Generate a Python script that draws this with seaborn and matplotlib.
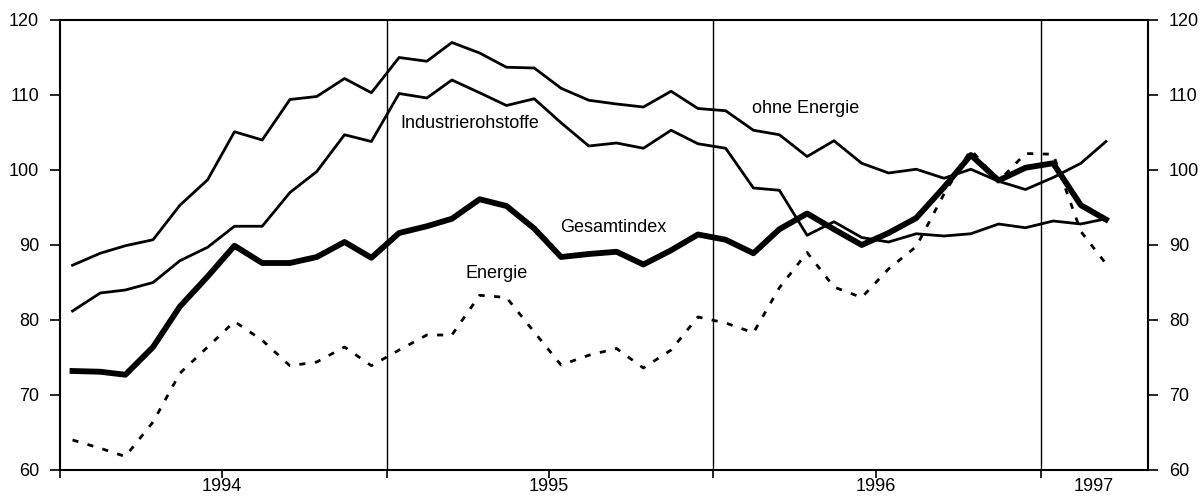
import matplotlib
matplotlib.use("Agg")
import matplotlib.pyplot as plt
import seaborn as sns
import pandas as pd

# ---- data (monthly, Jan 1994 - Mar 1997) ----
months = pd.date_range("1994-01-01", "1997-03-01", freq="MS")

ohne_energie = [87.3, 88.9, 89.9, 90.7, 95.3, 98.7, 105.1, 104.0, 109.4, 109.8, 112.2, 110.3,
                115.0, 114.5, 117.0, 115.6, 113.7, 113.6, 110.9, 109.3, 108.8, 108.4, 110.5, 108.2,
                107.9, 105.3, 104.7, 101.8, 103.9, 100.9, 99.6, 100.1, 98.9, 100.1, 98.5, 97.4,
                99.0, 100.9, 103.8]
industrierohstoffe = [81.2, 83.6, 84.0, 85.0, 87.9, 89.7, 92.5, 92.5, 97.0, 99.8, 104.7, 103.8,
                      110.2, 109.6, 112.0, 110.3, 108.6, 109.5, 106.3, 103.2, 103.6, 102.9, 105.3, 103.5,
                      102.9, 97.6, 97.3, 91.3, 93.1, 91.0, 90.4, 91.5, 91.2, 91.5, 92.8, 92.3,
                      93.2, 92.8, 93.5]
gesamtindex = [73.2, 73.1, 72.7, 76.4, 81.8, 85.8, 89.9, 87.6, 87.6, 88.4, 90.4, 88.3,
               91.6, 92.5, 93.5, 96.1, 95.2, 92.2, 88.4, 88.8, 89.1, 87.4, 89.3, 91.4,
               90.7, 88.9, 92.1, 94.2, 92.1, 90.0, 91.6, 93.6, 97.7, 102.0, 98.6, 100.3,
               100.9, 95.3, 93.4]
energie = [64.0, 62.9, 61.8, 66.4, 72.9, 76.4, 79.8, 77.3, 73.9, 74.4, 76.4, 73.9,
           76.0, 78.0, 78.0, 83.3, 83.0, 78.4, 74.0, 75.3, 76.2, 73.6, 76.0, 80.4,
           79.6, 78.3, 84.3, 89.0, 84.4, 83.0, 86.8, 89.8, 96.8, 102.7, 98.5, 102.2,
           102.1, 91.8, 87.5]

year_labels = ["1994", "1995", "1996", "1997"]
y_ticks = [60, 70, 80, 90, 100, 110, 120]

# ---- figure ----
plt.rcParams["font.family"] = ["Liberation Sans", "DejaVu Sans"]
plt.rcParams["font.size"] = 13

fig = plt.figure(figsize=(12.03, 4.97), dpi=100)
ax = fig.add_axes([60 / 1203, 27 / 497, 1088 / 1203, 450 / 497])

# plot at mid-month
mid = months + pd.Timedelta(days=14)
df = pd.DataFrame({"date": mid, "ohne": ohne_energie, "ind": industrierohstoffe,
                   "ges": gesamtindex, "ene": energie})

sns.lineplot(data=df, x="date", y="ohne", ax=ax, color="black", lw=2.0)
sns.lineplot(data=df, x="date", y="ind", ax=ax, color="black", lw=2.0)
sns.lineplot(data=df, x="date", y="ene", ax=ax, color="black", lw=2.0)
ax.lines[-1].set_dashes((2.2, 3.4))
sns.lineplot(data=df, x="date", y="ges", ax=ax, color="black", lw=4.2)

# year separators
for yr in ["1995-01-01", "1996-01-01", "1997-01-01"]:
    ax.axvline(pd.Timestamp(yr), color="black", lw=1.0, zorder=0)

ax.set_xlim(pd.Timestamp("1994-01-01"), pd.Timestamp("1997-05-01"))
ax.set_ylim(60, 120)
ax.set_yticks(y_ticks)
ax.set_xlabel("")
ax.set_ylabel("")

major = [pd.Timestamp(d) for d in ["1994-01-01", "1994-07-01", "1995-01-01", "1995-07-01",
                                    "1996-01-01", "1996-07-01", "1997-01-01"]]
ax.set_xticks(major)
ax.set_xticklabels([""] * len(major))
ax.xaxis.remove_overlapping_locs = False
label_pos = [pd.Timestamp(d) for d in ["1994-07-01", "1995-07-01", "1996-07-01", "1997-03-01"]]
ax.set_xticks(label_pos, minor=True)
ax.set_xticklabels(year_labels, minor=True)
ax.tick_params(axis="x", which="major", direction="out", length=6, width=1.2)
ax.tick_params(axis="x", which="minor", length=0, pad=6)
ax.tick_params(axis="y", which="both", direction="out", length=7, width=1.2,
               left=True, right=True, labelleft=True, labelright=True, pad=8)

for s in ax.spines.values():
    s.set_color("black")
    s.set_linewidth(1.5)

# series labels
ax.text(0.3125, 0.760, "Industrierohstoffe", transform=ax.transAxes, ha="left", va="baseline")
ax.text(0.636, 0.793, "ohne Energie", transform=ax.transAxes, ha="left", va="baseline")
ax.text(0.4596, 0.5296, "Gesamtindex", transform=ax.transAxes, ha="left", va="baseline")
ax.text(0.373, 0.4267, "Energie", transform=ax.transAxes, ha="left", va="baseline")

if ax.get_legend() is not None:
    ax.get_legend().remove()

fig.savefig("out.png", dpi=100)
